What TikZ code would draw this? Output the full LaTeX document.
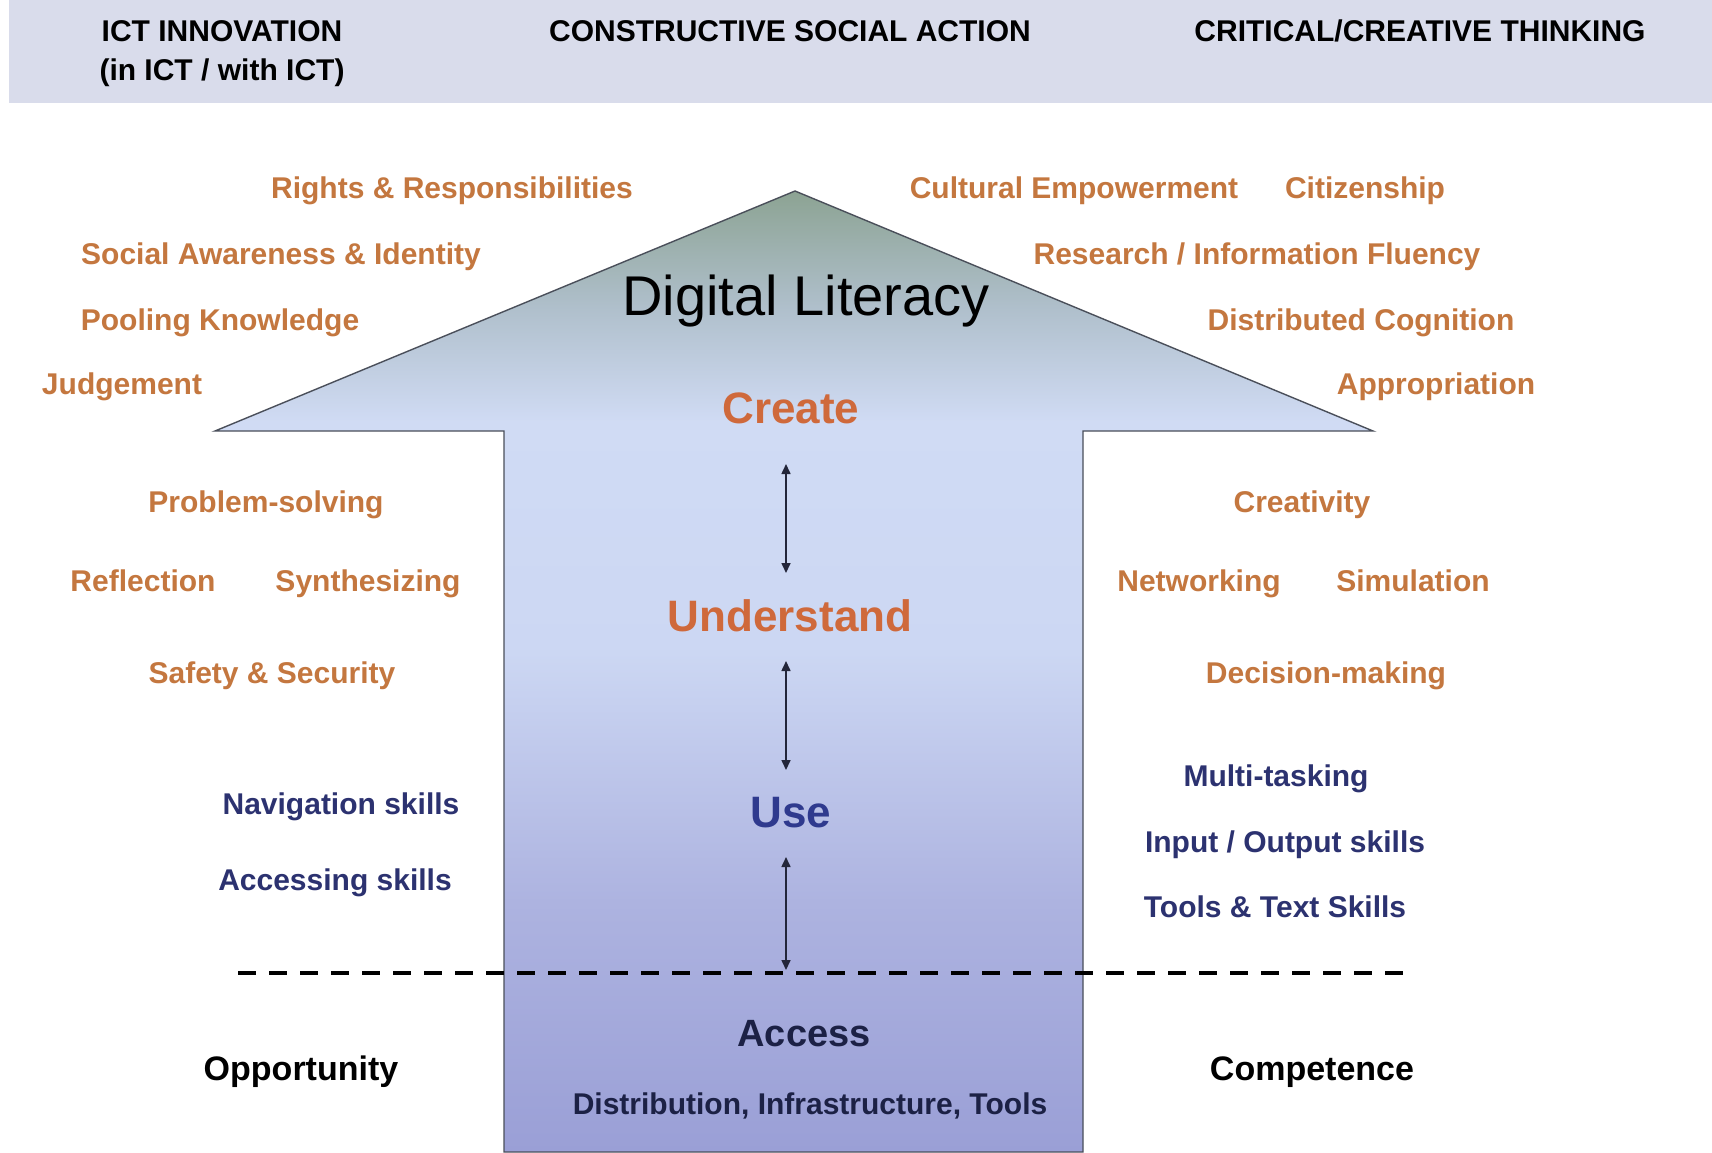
\documentclass[tikz,border=0pt]{standalone}
\usepackage{fontspec}
\setmainfont{Liberation Sans}
\usetikzlibrary{arrows.meta}
\definecolor{bandc}{HTML}{D9DCEB}
\definecolor{lblc}{HTML}{C4773F}
\definecolor{stagec}{HTML}{CF693B}
\definecolor{navyc}{HTML}{2C3270}
\definecolor{usec}{HTML}{2F3A8E}
\definecolor{accessc}{HTML}{1C2145}
\definecolor{sA}{HTML}{9A9FD6}
\definecolor{sB}{HTML}{ADB3E0}
\definecolor{sC}{HTML}{CCD7F3}
\definecolor{sD}{HTML}{D0DBF4}
\definecolor{sE}{HTML}{AFBFCB}
\definecolor{sF}{HTML}{8CA393}
\definecolor{edgec}{HTML}{4A4F5A}
\definecolor{arrc}{HTML}{23263A}
\pgfdeclareverticalshading{arrowshade}{100bp}{color(0bp)=(sA); color(25bp)=(sA); color(38bp)=(sB); color(51bp)=(sC); color(63bp)=(sD); color(69bp)=(sE); color(75bp)=(sF); color(100bp)=(sF)}
\tikzset{
  txt/.style={inner sep=0pt, text height=10.74pt, text depth=0pt, font=\bfseries\fontsize{15}{18}\selectfont},
  hdr/.style={txt, text=black},
  lbl/.style={txt, text=lblc},
  nav/.style={txt, text=navyc},
  stage/.style={inner sep=0pt, text height=15.75pt, text depth=0pt, font=\bfseries\fontsize{22}{26}\selectfont, text=stagec},
  bottomlbl/.style={inner sep=0pt, text height=12.17pt, text depth=0pt, font=\bfseries\fontsize{17}{20}\selectfont, text=black},
  dbl/.style={draw=arrc, line width=0.8pt, {Triangle[width=4.5pt,length=5pt]}-{Triangle[width=4.5pt,length=5pt]}},
  dashline/.style={draw=black, line width=2pt, dash pattern=on 9pt off 6.5pt},
}
\begin{document}
\begin{tikzpicture}[x=0.5pt,y=-0.5pt]
\useasboundingbox (0,0) rectangle (1712,1152);
\fill[white] (0,0) rectangle (1712,1152);
\fill[bandc] (9,0) rectangle (1712,103);

% big arrow
\shade[shading=arrowshade, draw=edgec, line width=0.7pt]
  (795,191) -- (1373,431) -- (1083,431) -- (1083,1152) -- (504,1152) -- (504,431) -- (215,431) -- cycle;

% header
\node[hdr] (h1) at (222,31) {ICT INNOVATION};
\node[hdr] (h1b) at (222,70) {(in ICT / with ICT)};
\node[hdr] (h2) at (790,31) {CONSTRUCTIVE SOCIAL ACTION};
\node[hdr] (h3) at (1420,31) {CRITICAL/CREATIVE THINKING};

% title
\node[inner sep=0pt, text height=20.05pt, text depth=0pt, font=\fontsize{28}{32}\selectfont, text=black] (dl) at (806,295) {Digital Literacy};

% upper labels
\node[lbl] (rr) at (452,188) {Rights \& Responsibilities};
\node[lbl] (sai) at (281,254) {Social Awareness \& Identity};
\node[lbl] (pk) at (220,320) {Pooling Knowledge};
\node[lbl] (jd) at (122,384) {Judgement};
\node[lbl] (ce) at (1074,188) {Cultural Empowerment};
\node[lbl] (cz) at (1365,188) {Citizenship};
\node[lbl] (rif) at (1257,254) {Research / Information Fluency};
\node[lbl] (dc) at (1361,320) {Distributed Cognition};
\node[lbl] (ap) at (1436,384) {Appropriation};

% middle labels
\node[lbl] (ps) at (266,502) {Problem-solving};
\node[lbl] (rf) at (143,581) {Reflection};
\node[lbl] (sy) at (368,581) {Synthesizing};
\node[lbl] (ss) at (272,673) {Safety \& Security};
\node[lbl] (cr) at (1302,502) {Creativity};
\node[lbl] (nw) at (1199,581) {Networking};
\node[lbl] (sm) at (1413,581) {Simulation};
\node[lbl] (dm) at (1326,673) {Decision-making};

% navy labels
\node[nav] (ns) at (341,804) {Navigation skills};
\node[nav] (as) at (335,880) {Accessing skills};
\node[nav] (mt) at (1276,776) {Multi-tasking};
\node[nav] (io) at (1285,842) {Input / Output skills};
\node[nav] (tt) at (1275,907) {Tools \& Text Skills};

% stages
\node[stage] (create) at (791,408) {Create};
\node[stage] (understand) at (790,616) {Understand};
\node[stage, text=usec] (use) at (791,812) {Use};
\node[inner sep=0pt, text height=13.6pt, text depth=0pt, font=\bfseries\fontsize{19}{22}\selectfont, text=accessc] (access) at (804,1033) {Access};
\node[inner sep=0pt, text height=10.74pt, text depth=0pt, font=\bfseries\fontsize{15}{18}\selectfont, text=accessc] (dist) at (810,1104) {Distribution, Infrastructure, Tools};

% bottom labels
\node[bottomlbl] (opp) at (301,1068) {Opportunity};
\node[bottomlbl] (comp) at (1312,1068) {Competence};

% connectors
\coordinate (a1t) at (786,464);
\coordinate (a1b) at (786,573);
\coordinate (a2t) at (786,661);
\coordinate (a2b) at (786,770);
\coordinate (a3t) at (786,857);
\coordinate (a3b) at (786,970);
\draw[dbl] (a1t) -- (a1b);
\draw[dbl] (a2t) -- (a2b);
\draw[dbl] (a3t) -- (a3b);

\coordinate (dL) at (238,973);
\coordinate (dR) at (1408,973);
\draw[dashline] (dL) -- (dR);
\end{tikzpicture}
\end{document}
